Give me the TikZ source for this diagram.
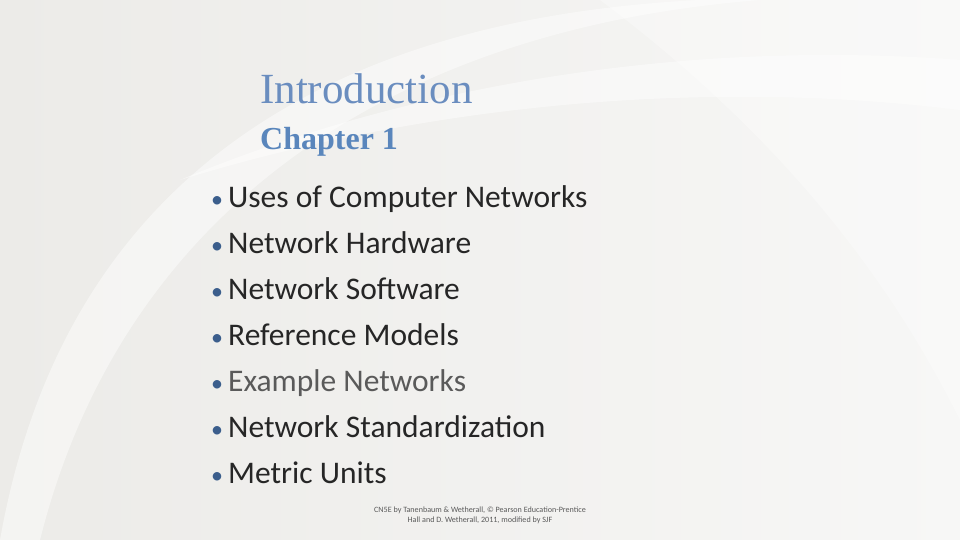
\documentclass[tikz,border=0pt]{standalone}
\usepackage{fontspec}
\setmainfont{Carlito}
\newfontfamily\titlefont{Liberation Serif}
\definecolor{bgA}{HTML}{ECEBE8}
\definecolor{bgB}{HTML}{F7F7F6}
\definecolor{ttl}{HTML}{6A8DBF}
\definecolor{chp}{HTML}{5A86BC}
\definecolor{txt}{HTML}{262626}
\definecolor{txtl}{HTML}{5A5A5A}
\definecolor{bul}{HTML}{3B5E8C}
\tikzset{item/.style={anchor=base west,font=\fontsize{31.5}{33}\selectfont,text=txt,inner sep=0pt},
bulmark/.style={anchor=base west,inner sep=0pt,text=bul,font=\fontsize{24}{26}\selectfont},
swoosh/.style={fill=white,opacity=0.45}}
\begin{document}
\begin{tikzpicture}[x=1pt,y=-1pt]
\useasboundingbox (0,0) rectangle (960,540);
\shade[left color=bgA,right color=bgB] (0,0) rectangle (960,540);
\fill[swoosh] (0,540) .. controls (60,200) and (300,20) .. (700,0) -- (760,0) .. controls (380,30) and (120,220) .. (40,540) -- cycle;
\fill[swoosh] (960,60) .. controls (700,40) and (420,80) .. (180,180) .. controls (440,100) and (720,80) .. (960,110) -- cycle;
\fill[white,opacity=0.3] (600,0) .. controls (800,150) and (900,300) .. (960,420) -- (960,0) -- cycle;
\node[anchor=base west,inner sep=0pt,text=ttl,font=\titlefont\fontsize{43}{46}\selectfont] (t) at (260,104) {Introduction};
\node[anchor=base west,inner sep=0pt,text=chp,font=\titlefont\bfseries\fontsize{32}{34}\selectfont] (c) at (260,150) {Chapter 1};
\foreach \y [count=\k] in {207,253,299,345,391,437,483}
  \node[bulmark] (b\k) at (211,\y) {•};
\node[item] (i1) at (228,207) {Uses of Computer Networks};
\node[item] (i2) at (228,253) {Network Hardware};
\node[item] (i3) at (228,299) {Network Software};
\node[item] (i4) at (228,345) {Reference Models};
\node[item,text=txtl] (i5) at (228,391) {Example Networks};
\node[item] (i6) at (228,437) {Network Standardization};
\node[item] (i7) at (228,483) {Metric Units};
\node[align=center,inner sep=0pt,text=txtl,font=\fontsize{8.1}{10}\selectfont] (f) at (480,515) {CN5E by Tanenbaum \& Wetherall, © Pearson Education-Prentice\\Hall and D. Wetherall, 2011, modified by SJF};
\end{tikzpicture}
\end{document}
